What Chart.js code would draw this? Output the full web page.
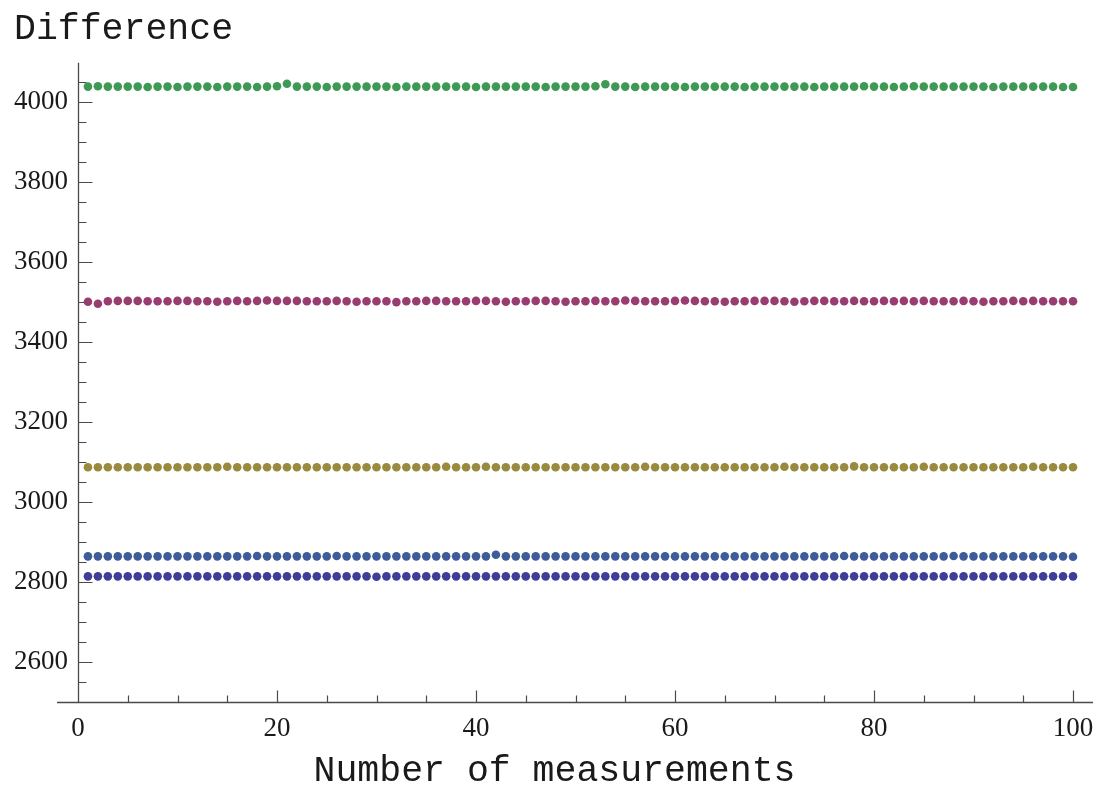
<!DOCTYPE html>
<html>
<head>
<meta charset="utf-8">
<script src="https://cdn.jsdelivr.net/npm/chart.js@4.4.1/dist/chart.umd.min.js"></script>
<style>
  html, body { margin: 0; padding: 0; background: #ffffff; }
  #wrap { width: 1096px; height: 788px; position: relative; }
</style>
</head>
<body>
<div id="wrap"><canvas id="c"></canvas></div>
<script>
// ---- data ----
const measurements = [
  1,2,3,4,5,6,7,8,9,10,
  11,12,13,14,15,16,17,18,19,20,
  21,22,23,24,25,26,27,28,29,30,
  31,32,33,34,35,36,37,38,39,40,
  41,42,43,44,45,46,47,48,49,50,
  51,52,53,54,55,56,57,58,59,60,
  61,62,63,64,65,66,67,68,69,70,
  71,72,73,74,75,76,77,78,79,80,
  81,82,83,84,85,86,87,88,89,90,
  91,92,93,94,95,96,97,98,99,100
];

const seriesDarkBlue = [
  2813,2813,2813,2813,2813,2813,2813,2813,2813,2813,
  2813,2813,2813,2813,2813,2813,2813,2813,2813,2813,
  2813,2813,2813,2813,2813,2813,2813,2813,2813,2812,
  2813,2813,2813,2813,2813,2813,2813,2813,2813,2813,
  2813,2813,2813,2813,2813,2813,2813,2813,2813,2813,
  2813,2813,2813,2813,2813,2813,2813,2813,2813,2813,
  2813,2813,2813,2813,2813,2813,2813,2813,2813,2813,
  2813,2813,2813,2813,2813,2813,2813,2813,2813,2813,
  2813,2813,2813,2813,2813,2813,2813,2813,2813,2813,
  2813,2813,2813,2813,2813,2813,2813,2813,2813,2813
];

const seriesBlue = [
  2863,2863,2863,2863,2863,2863,2863,2863,2863,2863,
  2863,2863,2863,2863,2863,2863,2863,2864,2863,2863,
  2863,2863,2863,2863,2863,2864,2863,2863,2863,2863,
  2863,2863,2863,2863,2863,2863,2863,2863,2863,2863,
  2863,2867,2863,2863,2863,2863,2863,2863,2863,2863,
  2863,2863,2863,2863,2863,2863,2863,2863,2863,2863,
  2863,2863,2863,2863,2863,2863,2863,2863,2863,2863,
  2863,2863,2863,2863,2863,2863,2864,2863,2863,2863,
  2863,2863,2863,2863,2863,2863,2863,2864,2863,2863,
  2863,2863,2863,2863,2863,2863,2863,2863,2863,2862
];

const seriesOlive = [
  3086,3086,3086,3086,3086,3086,3086,3086,3086,3086,
  3086,3086,3086,3086,3087,3086,3086,3086,3086,3086,
  3086,3086,3086,3086,3086,3086,3086,3086,3086,3086,
  3086,3086,3086,3086,3086,3086,3087,3086,3086,3086,
  3087,3086,3086,3086,3086,3086,3086,3086,3086,3086,
  3086,3086,3086,3086,3086,3086,3087,3086,3086,3086,
  3086,3086,3086,3086,3086,3086,3086,3086,3086,3086,
  3087,3086,3086,3086,3086,3086,3086,3088,3086,3086,
  3086,3086,3086,3086,3087,3086,3086,3086,3086,3086,
  3086,3086,3086,3086,3086,3087,3086,3086,3086,3086
];

const seriesMagenta = [
  3500,3495,3501,3502,3502,3502,3501,3501,3501,3502,
  3502,3501,3501,3500,3501,3502,3501,3502,3503,3502,
  3502,3502,3501,3501,3501,3502,3501,3500,3501,3501,
  3501,3499,3501,3501,3502,3502,3501,3501,3501,3502,
  3502,3501,3500,3501,3501,3502,3502,3501,3500,3501,
  3501,3502,3501,3501,3503,3502,3501,3501,3501,3502,
  3503,3502,3501,3501,3500,3501,3501,3502,3502,3502,
  3501,3500,3501,3502,3502,3501,3501,3502,3501,3501,
  3502,3501,3502,3501,3502,3501,3501,3501,3502,3501,
  3500,3501,3501,3502,3501,3502,3501,3501,3501,3501
];

const seriesGreen = [
  4038,4039,4038,4038,4038,4038,4037,4038,4038,4037,
  4038,4038,4038,4037,4038,4038,4038,4037,4038,4039,
  4045,4038,4038,4038,4037,4038,4038,4038,4038,4038,
  4038,4037,4038,4038,4038,4038,4038,4038,4038,4037,
  4038,4038,4038,4038,4038,4038,4037,4038,4038,4038,
  4038,4039,4044,4038,4038,4037,4038,4038,4038,4038,
  4037,4038,4038,4038,4038,4038,4037,4038,4038,4038,
  4038,4038,4038,4037,4038,4038,4038,4038,4039,4038,
  4038,4037,4038,4039,4038,4038,4038,4038,4038,4038,
  4038,4037,4038,4038,4038,4038,4038,4038,4037,4037
];

const xTickValues = [0,5,10,15,20,25,30,35,40,45,50,55,60,65,70,75,80,85,90,95,100];
const xTickLabels = [0,20,40,60,80,100];
const yTickValues = [2500,2550,2600,2650,2700,2750,2800,2850,2900,2950,3000,3050,3100,3150,3200,3250,
                     3300,3350,3400,3450,3500,3550,3600,3650,3700,3750,3800,3850,3900,3950,4000,4050];
const yTickLabels = [2600,2800,3000,3200,3400,3600,3800,4000];

const yTitle = 'Difference';
const xTitle = 'Number of measurements';

// ---- chart ----
const toPoints = vals => vals.map((v, i) => ({ x: measurements[i], y: v }));

const makeSet = (label, vals, color) => ({
  label,
  data: toPoints(vals),
  backgroundColor: color,
  borderColor: color,
  borderWidth: 0,
  pointRadius: 4.3,
  pointHoverRadius: 4.3,
  showLine: false,
  clip: false
});

const axisColor = '#4a4a4a';

const mathAxes = {
  id: 'mathAxes',
  afterLayout(chart) {
    // shift the bottom caption box slightly so it sits where the reference caption sits
    const cap = chart.boxes.find(b => b.options && b.options.text === xTitle && b.options.position === 'bottom');
    if (cap) { cap.left += 22; }
  },
  beforeDatasetsDraw(chart) {
    const { ctx, chartArea, scales } = chart;
    const xs = scales.x, ys = scales.y;
    const x0 = Math.round(xs.getPixelForValue(0)) + 0.5;
    const yb = Math.round(ys.getPixelForValue(2500)) + 0.5;
    ctx.save();
    ctx.strokeStyle = axisColor;
    ctx.lineWidth = 1.3;
    ctx.beginPath();
    ctx.moveTo(chartArea.left - 21, yb);
    ctx.lineTo(chartArea.right + 20, yb);
    ctx.moveTo(x0, chartArea.top);
    ctx.lineTo(x0, yb);
    ctx.stroke();
    ctx.lineWidth = 1.2;
    ctx.beginPath();
    ys.ticks.forEach(t => {
      const py = Math.round(ys.getPixelForValue(t.value)) + 0.5;
      const len = yTickLabels.includes(t.value) ? 14 : 8;
      ctx.moveTo(x0, py);
      ctx.lineTo(x0 + len, py);
    });
    xs.ticks.forEach(t => {
      if (t.value === 0) return;
      const px = Math.round(xs.getPixelForValue(t.value)) + 0.5;
      const len = xTickLabels.includes(t.value) ? 12 : 7;
      ctx.moveTo(px, yb);
      ctx.lineTo(px, yb - len);
    });
    ctx.stroke();
    ctx.restore();
  }
};

new Chart(document.getElementById('c'), {
  type: 'scatter',
  data: {
    datasets: [
      makeSet('Series 1', seriesDarkBlue, 'rgb(62,61,153)'),
      makeSet('Series 2', seriesMagenta, 'rgb(153,61,113)'),
      makeSet('Series 3', seriesOlive, 'rgb(153,138,61)'),
      makeSet('Series 4', seriesGreen, 'rgb(61,153,84)'),
      makeSet('Series 5', seriesBlue, 'rgb(61,92,153)')
    ]
  },
  options: {
    responsive: true,
    maintainAspectRatio: false,
    animation: false,
    events: [],
    layout: { padding: { left: 14, right: 23, top: 0, bottom: 0 } },
    plugins: {
      legend: { display: false },
      tooltip: { enabled: false },
      title: {
        display: true,
        text: yTitle,
        align: 'start',
        color: '#1a1a1a',
        font: { family: "'Liberation Mono', 'DejaVu Sans Mono', monospace", size: 36.5, weight: 'normal', lineHeight: 1.2 },
        padding: { top: 7, bottom: 12 }
      },
      subtitle: {
        display: true,
        text: xTitle,
        position: 'bottom',
        align: 'center',
        color: '#1a1a1a',
        font: { family: "'Liberation Mono', 'DejaVu Sans Mono', monospace", size: 36.5, weight: 'normal', lineHeight: 1.0 },
        padding: { top: -3, bottom: -2 }
      }
    },
    scales: {
      x: {
        type: 'linear',
        min: 0,
        max: 100,
        grid: { display: false, drawTicks: false },
        border: { display: false },
        afterBuildTicks: s => { s.ticks = xTickValues.map(v => ({ value: v })); },
        afterFit: s => { s.paddingLeft = 0; s.paddingRight = 0; },
        ticks: {
          padding: 14,
          maxRotation: 0,
          autoSkip: false,
          color: '#1a1a1a',
          font: { family: "'Liberation Serif', 'Times New Roman', serif", size: 27, lineHeight: 1.0 },
          callback: v => xTickLabels.includes(v) ? String(v) : ''
        }
      },
      y: {
        type: 'linear',
        min: 2500,
        max: 4097.5,
        grid: { display: false, drawTicks: false },
        border: { display: false },
        afterBuildTicks: s => { s.ticks = yTickValues.map(v => ({ value: v })); },
        afterFit: s => { s.width = 64; },
        ticks: {
          padding: 10,
          autoSkip: false,
          color: '#1a1a1a',
          font: { family: "'Liberation Serif', 'Times New Roman', serif", size: 27, lineHeight: 1.0 },
          callback: v => yTickLabels.includes(v) ? String(v) : ''
        }
      }
    }
  },
  plugins: [mathAxes]
});
</script>
</body>
</html>
